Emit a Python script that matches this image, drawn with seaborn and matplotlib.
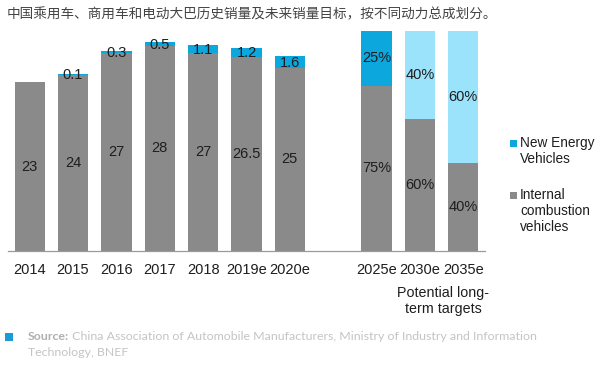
import matplotlib
matplotlib.use("Agg")
import matplotlib.pyplot as plt
import seaborn as sns
import pandas as pd
import numpy as np
from matplotlib.patches import Rectangle

# ---- data ----
hist_years = ["2014", "2015", "2016", "2017", "2018", "2019e", "2020e"]
hist_ice = [23, 24, 27, 28, 27, 26.5, 25]
hist_nev = [0.07, 0.1, 0.3, 0.5, 1.1, 1.2, 1.6]
hist_nev_labels = ["", "0.1", "0.3", "0.5", "1.1", "1.2", "1.6"]

target_years = ["2025e", "2030e", "2035e"]
target_nev_pct = [25, 40, 60]
target_ice_pct = [75, 60, 40]

order = hist_years + [" "] + target_years

title = "中国乘用车、商用车和电动大巴历史销量及未来销量目标，按不同动力总成划分。"
legend_labels = ["New Energy\nVehicles", "Internal\ncombustion\nvehicles"]
note = "Potential long-\nterm targets"
source_bold = "Source:"
source_rest = " China Association of Automobile Manufacturers, Ministry of Industry and Information"
source_line2 = "Technology, BNEF"

# ---- styles ----
GREY = "#8a8a8a"
BLUE = "#0ba7dd"
LBLUE = "#9be3fb"
TXT = "#1e1e1e"
PCT_SCALE = 30 / 100.0  # 100% drawn at height 30

sns.set_theme(style="white")
plt.rcParams["font.family"] = ["Liberation Sans", "DejaVu Sans"]

df = pd.DataFrame({
    "year": hist_years + target_years,
    "total": [i + n for i, n in zip(hist_ice, hist_nev)] + [100 * PCT_SCALE] * 3,
    "ice": hist_ice + [p * PCT_SCALE for p in target_ice_pct],
    "topcolor": [BLUE] * 7 + [BLUE, LBLUE, LBLUE],
})

fig = plt.figure(figsize=(6.0, 3.68), dpi=100)
ax = fig.add_axes([8 / 600, 1 - 251 / 368, (485 - 8) / 600, (251 - 31) / 368])

pal_top = dict(zip(df["year"], df["topcolor"]))
sns.barplot(data=df, x="year", y="total", hue="year", order=order, hue_order=df["year"].tolist(),
            palette=pal_top, width=0.7, legend=False, ax=ax, saturation=1, linewidth=0)
sns.barplot(data=df, x="year", y="ice", order=order, color=GREY,
            width=0.7, ax=ax, saturation=1, linewidth=0)

ax.set_xlim(-0.5, len(order) - 0.5)
ax.set_ylim(0, 30)
ax.set_xlabel("")
ax.set_ylabel("")
ax.set_yticks([])
for s in ["top", "right", "left"]:
    ax.spines[s].set_visible(False)
ax.spines["bottom"].set_color("#9a9a9a")
ax.spines["bottom"].set_linewidth(0.9)

ax.set_xticks(range(len(order)))
ax.set_xticklabels(order, fontsize=10.5, color=TXT)
ax.tick_params(axis="x", which="major", length=0, pad=9)
ax.set_xticks(np.arange(-0.5, len(order), 1.0), minor=True)
ax.tick_params(axis="x", which="minor", length=4, width=0.8, color="#9a9a9a", direction="out")

# value labels
pos = {y: i for i, y in enumerate(order)}
for yr, ice, nev, lab in zip(hist_years, hist_ice, hist_nev, hist_nev_labels):
    x = pos[yr]
    ax.text(x, ice / 2, f"{ice:g}", ha="center", va="center", fontsize=10.5, color=TXT)
    if lab:
        ax.text(x, ice + max(nev / 2, 0.2) - 0.15, lab, ha="center", va="center", fontsize=10.5, color=TXT)
for yr, nevp, icep in zip(target_years, target_nev_pct, target_ice_pct):
    x = pos[yr]
    ax.text(x, icep * PCT_SCALE / 2, f"{icep}%", ha="center", va="center", fontsize=10.5, color=TXT)
    ax.text(x, icep * PCT_SCALE + nevp * PCT_SCALE / 2, f"{nevp}%", ha="center", va="center",
            fontsize=10.5, color=TXT)

# title
fig.text(7 / 600, 1 - 14 / 368, title, ha="left", va="center", fontsize=9.8, color="#444444",
         family=["Noto Sans CJK SC", "DejaVu Sans"])

# legend
def fy(py):
    return 1 - py / 368

fig.add_artist(Rectangle((510 / 600, fy(147)), 7 / 600, 7 / 368, transform=fig.transFigure,
                         color=BLUE, lw=0))
fig.text(520 / 600, fy(136), legend_labels[0], ha="left", va="top", fontsize=9.8, color=TXT,
         linespacing=1.2)
fig.add_artist(Rectangle((510 / 600, fy(199)), 7 / 600, 7 / 368, transform=fig.transFigure,
                         color=GREY, lw=0))
fig.text(520 / 600, fy(188), legend_labels[1], ha="left", va="top", fontsize=9.8, color=TXT,
         linespacing=1.2)

# note under targets
fig.text(443 / 600, fy(286), note, ha="center", va="top", fontsize=10.3, color=TXT, linespacing=1.2)

# source
fig.add_artist(Rectangle((5 / 600, fy(341)), 8 / 600, 8 / 368, transform=fig.transFigure,
                         color="#1a9ad6", lw=0))
t = fig.text(28 / 600, fy(337), source_bold, ha="left", va="center", fontsize=8.9, color="#b0b0b0",
             family="Lato", weight="bold")
fig.canvas.draw()
bb = t.get_window_extent()
fig.text(bb.x1 / 600, fy(337), source_rest, ha="left", va="center", fontsize=8.9, color="#c4c4c4",
         family="Lato")
fig.text(28 / 600, fy(353), source_line2, ha="left", va="center", fontsize=8.9, color="#c4c4c4",
         family="Lato")

fig.savefig("out.png", dpi=100)
